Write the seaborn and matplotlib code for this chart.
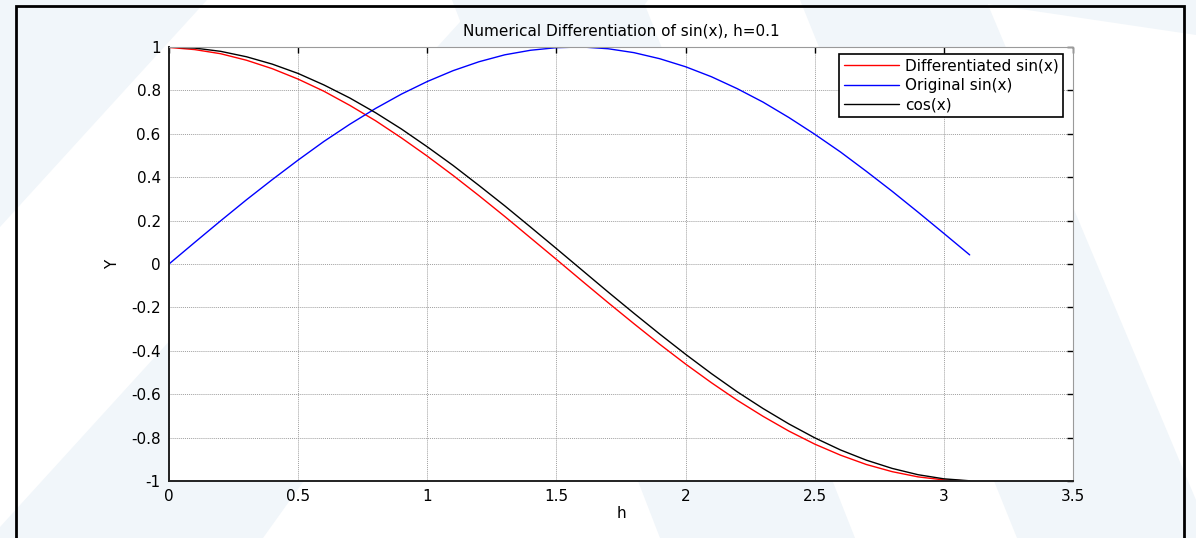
import matplotlib
matplotlib.use("Agg")
import matplotlib.pyplot as plt
from matplotlib.patches import Polygon, Rectangle
import seaborn as sns
import pandas as pd

# ---- data ----
x_vals = [0.0, 0.1, 0.2, 0.3, 0.4, 0.5, 0.6, 0.7, 0.8, 0.9, 1.0, 1.1, 1.2, 1.3, 1.4, 1.5,
          1.6, 1.7, 1.8, 1.9, 2.0, 2.1, 2.2, 2.3, 2.4, 2.5, 2.6, 2.7, 2.8, 2.9, 3.0, 3.1]
diff_sin = [0.998, 0.988, 0.969, 0.939, 0.900, 0.852, 0.796, 0.731, 0.660, 0.581, 0.497,
            0.408, 0.315, 0.219, 0.120, 0.021, -0.079, -0.178, -0.275, -0.370, -0.461,
            -0.547, -0.628, -0.702, -0.770, -0.830, -0.881, -0.924, -0.957, -0.981,
            -0.995, -1.000]
orig_sin = [0.000, 0.100, 0.199, 0.296, 0.389, 0.479, 0.565, 0.644, 0.717, 0.783, 0.841,
            0.891, 0.932, 0.964, 0.985, 0.997, 1.000, 0.992, 0.974, 0.946, 0.909, 0.863,
            0.808, 0.746, 0.675, 0.598, 0.516, 0.427, 0.335, 0.239, 0.141, 0.042]
cos_vals = [1.000, 0.995, 0.980, 0.955, 0.921, 0.878, 0.825, 0.765, 0.697, 0.622, 0.540,
            0.454, 0.362, 0.268, 0.170, 0.071, -0.029, -0.129, -0.227, -0.323, -0.416,
            -0.505, -0.589, -0.666, -0.737, -0.801, -0.857, -0.904, -0.942, -0.971,
            -0.990, -0.999]
series_names = ["Differentiated sin(x)", "Original sin(x)", "cos(x)"]
series_colors = ["#ff0000", "#0000ff", "#000000"]
x_ticks = [0, 0.5, 1, 1.5, 2, 2.5, 3, 3.5]
x_tick_labels = ["0", "0.5", "1", "1.5", "2", "2.5", "3", "3.5"]
y_ticks = [-1, -0.8, -0.6, -0.4, -0.2, 0, 0.2, 0.4, 0.6, 0.8, 1]
y_tick_labels = ["-1", "-0.8", "-0.6", "-0.4", "-0.2", "0", "0.2", "0.4", "0.6", "0.8", "1"]
title_text = "Numerical Differentiation of sin(x), h=0.1"

sns.set_style("white")
plt.rcParams["font.family"] = ["DejaVu Sans"]
plt.rcParams["axes.unicode_minus"] = False
plt.rcParams["text.color"] = "black"
plt.rcParams["axes.labelcolor"] = "black"
plt.rcParams["xtick.color"] = "black"
plt.rcParams["ytick.color"] = "black"

W, H = 1196, 538
fig = plt.figure(figsize=(W / 100, H / 100), dpi=100)
fig.patch.set_facecolor("white")

def px(points):
    return [(x / W, 1 - y / H) for x, y in points]

wm = "#f1f6fa"
shapes = [
    [(0, 0), (207, 0), (0, 227)],
    [(0, 527), (480, 0), (648, 0), (263, 538), (0, 538)],
    [(452, 0), (643, 0), (855, 538), (660, 538)],
    [(800, 0), (986, 0), (1196, 500), (1196, 538), (1017, 538)],
    [(960, 0), (1196, 0), (1196, 35)],
]
for s in shapes:
    fig.add_artist(Polygon(px(s), closed=True, transform=fig.transFigure,
                           facecolor=wm, edgecolor="none", zorder=-10))

fig.add_artist(Rectangle((16 / W, 1 - 560 / H), (1184 - 16) / W, (560 - 6) / H,
                         transform=fig.transFigure, fill=False, edgecolor="black",
                         linewidth=2, zorder=10))

left, right, top, bottom = 169, 1073, 47, 481
ax = fig.add_axes([left / W, 1 - bottom / H, (right - left) / W, (bottom - top) / H])
ax.set_facecolor("white")

df = pd.DataFrame({"x": x_vals * 3,
                   "y": diff_sin + orig_sin + cos_vals,
                   "series": [series_names[0]] * len(x_vals) + [series_names[1]] * len(x_vals)
                   + [series_names[2]] * len(x_vals)})
sns.lineplot(data=df, x="x", y="y", hue="series", hue_order=series_names,
             palette=series_colors, linewidth=1.0, ax=ax, legend=True, estimator=None)

ax.set_xlim(0, 3.5)
ax.set_ylim(-1, 1)
ax.set_xticks(x_ticks)
ax.set_xticklabels(x_tick_labels)
ax.set_yticks(y_ticks)
ax.set_yticklabels(y_tick_labels)
ax.tick_params(direction="in", length=4, width=1, top=True, right=True,
               labelsize=11, pad=6, colors="black")
ax.grid(True, linestyle=(0, (1, 1)), color="#a0a0a0", linewidth=0.7)
for side in ["left", "bottom"]:
    ax.spines[side].set_color("#222222")
    ax.spines[side].set_linewidth(1.4)
for side in ["top", "right"]:
    ax.spines[side].set_color("#9a9a9a")
    ax.spines[side].set_linewidth(0.8)
    ax.spines[side].set_linestyle((0, (1, 1)))

ax.set_title(title_text, fontsize=11, pad=8, color="black")
ax.set_xlabel("h", fontsize=11, labelpad=1)
ax.set_ylabel("Y", fontsize=11, labelpad=8)

leg = ax.legend(loc="upper right", bbox_to_anchor=(0.989, 0.984), borderaxespad=0,
                fontsize=11, frameon=True, fancybox=False, handlelength=3.6,
                handletextpad=0.4, labelspacing=0.3, borderpad=0.3)
leg.get_frame().set_edgecolor("black")
leg.get_frame().set_linewidth(1.2)
leg.get_frame().set_facecolor("white")
leg.get_frame().set_alpha(1)
for t in leg.get_texts():
    t.set_color("black")

fig.savefig("out.png", dpi=100)
